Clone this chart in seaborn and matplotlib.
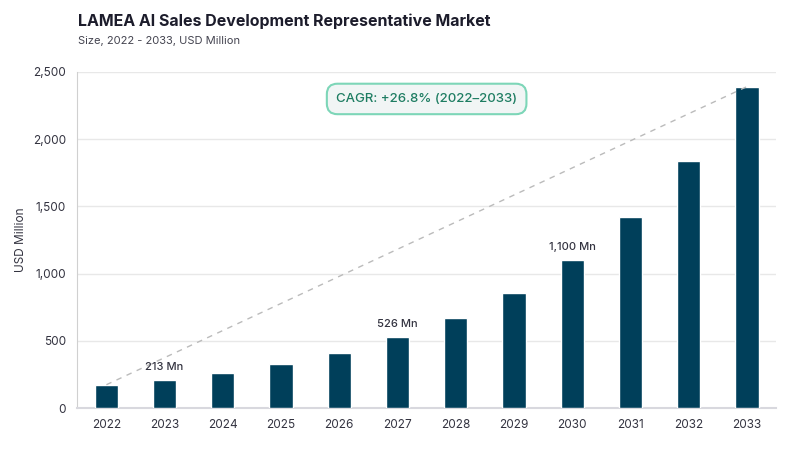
import pandas as pd
import matplotlib
matplotlib.use("Agg")
import matplotlib.pyplot as plt
import seaborn as sns

# 데이터
years = ["2022", "2023", "2024", "2025", "2026", "2027",
         "2028", "2029", "2030", "2031", "2032", "2033"]
values = [175, 213, 261, 326, 412, 526, 669, 854, 1100, 1419, 1837, 2389]
labeled_years = ["2023", "2027", "2030"]
label_texts = ["213 Mn", "526 Mn", "1,100 Mn"]
y_ticks = [0, 500, 1000, 1500, 2000, 2500]
y_tick_labels = ["0", "500", "1,000", "1,500", "2,000", "2,500"]

df = pd.DataFrame({"Year": years, "Value": values})

sns.set_style("white")
plt.rcParams["font.family"] = ["Inter", "DejaVu Sans"]

fig = plt.figure(figsize=(8, 4.5), dpi=100)
ax = fig.add_axes([0.0966, 0.0927, 0.8734, 0.748])

sns.barplot(data=df, x="Year", y="Value", color="#003f5a", width=0.4,
            saturation=1, ax=ax, zorder=3)

# 점선 추세선 (첫 막대 -> 마지막 막대)
ax.plot([0, len(years) - 1], [values[0], values[-1]], linestyle=(0, (4, 4)),
        color="#bbbbbb", linewidth=1, zorder=4)

# 값 레이블
for yr, txt in zip(labeled_years, label_texts):
    i = years.index(yr)
    ax.text(i, values[i] + 60, txt, ha="center", va="bottom",
            fontsize=8, fontweight="medium", color="#333340", zorder=5)

ax.set_ylim(0, 2500)
ax.set_xlim(-0.5, len(years) - 0.5)
ax.set_yticks(y_ticks)
ax.set_yticklabels(y_tick_labels)
ax.yaxis.grid(True, color="#e8e8e8", linewidth=1, zorder=0)
ax.tick_params(axis="y", length=5, color="#cccccc", labelsize=8.5,
               labelcolor="#333340", pad=3)
ax.tick_params(axis="x", length=0, labelsize=8.5, labelcolor="#333340", pad=8)
ax.set_xlabel("")
ax.set_ylabel("USD Million", fontsize=8.5, color="#333340", labelpad=4)

for side in ["top", "right"]:
    ax.spines[side].set_visible(False)
ax.spines["left"].set_color("#d0d0d0")
ax.spines["bottom"].set_color("#d8d8de")
ax.spines["bottom"].set_linewidth(1.5)

# CAGR 박스
ax.text(0.5, 0.919, "CAGR: +26.8% (2022\u20132033)", transform=ax.transAxes,
        ha="center", va="center", fontsize=9.5, fontweight="medium",
        color="#1e7d62",
        bbox=dict(boxstyle="round,pad=0.7,rounding_size=0.8",
                  facecolor="#f1f5f5", edgecolor="#7dd6b8", linewidth=1.5),
        zorder=6)

fig.text(0.0975, 0.953, "LAMEA AI Sales Development Representative Market",
         fontsize=11.5, fontweight="bold", color="#1c1c2b", va="center")
fig.text(0.0975, 0.908, "Size, 2022 - 2033, USD Million",
         fontsize=8, color="#444450", va="center")

fig.savefig("out.png", dpi=100)
